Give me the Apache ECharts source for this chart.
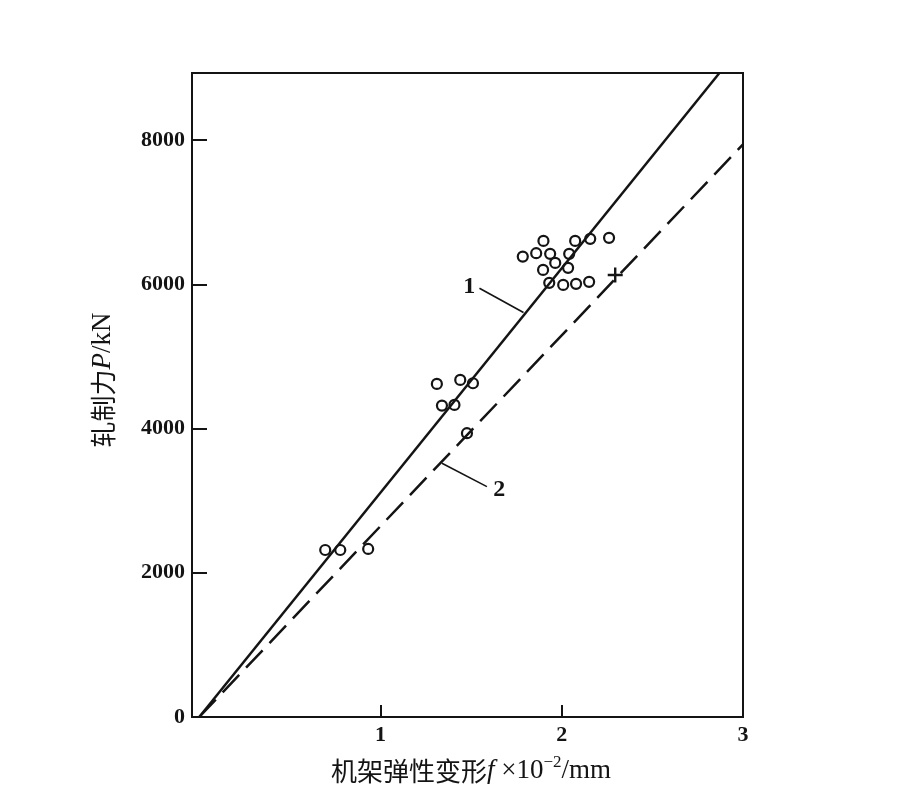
<!DOCTYPE html>
<html>
<head>
<meta charset="utf-8">
<script src="https://cdn.jsdelivr.net/npm/echarts@6/dist/echarts.min.js"></script>
<style>html,body{margin:0;padding:0;background:#fff;}#c{width:904px;height:808px;}</style>
</head>
<body>
<div id="c"></div>
<script>
// ---- data ----
const xLabelValues = [1, 2, 3];
const xTickValues = [1, 2];
const yLabelValues = [0, 2000, 4000, 6000, 8000];
const yTickValues = [2000, 4000, 6000, 8000];

const circleX = [0.695, 0.778, 0.932, 1.311, 1.440, 1.510, 1.339, 1.408, 1.477,
  1.785, 1.859, 1.899, 1.936, 1.964, 1.897, 1.931, 2.008, 2.079, 2.151, 2.035, 2.041, 2.074, 2.157, 2.261];
const circleY = [2316, 2316, 2330, 4619, 4674, 4628, 4318, 4328, 3935,
  6384, 6431, 6602, 6422, 6297, 6200, 6020, 5992, 6006, 6034, 6228, 6422, 6602, 6630, 6644];
const crossX = [2.295];
const crossY = [6130];

const line1X = [0, 2.87];
const line1Y = [0, 8930];
const line2X = [0, 3.0];
const line2Y = [0, 7940];

const leader1X = [1.546, 1.789];
const leader1Y = [5946, 5608];
const leader2X = [1.339, 1.587];
const leader2Y = [3519, 3194];
const lineTags = ['1', '2'];
const tagX = [1.489, 1.655];
const tagY = [5964, 3149];

const zip = (xs, ys) => xs.map((x, i) => [x, ys[i]]);

const ink = '#141414';
const serif = '"Liberation Serif", "DejaVu Serif", serif';
const cjk = '"Noto Sans CJK SC", sans-serif';

const chart = echarts.init(document.getElementById('c'));
chart.setOption({
  backgroundColor: '#ffffff',
  animation: false,
  grid: { left: 192, right: 161, top: 73, bottom: 91, show: true, borderColor: ink, borderWidth: 2, backgroundColor: 'transparent' },
  xAxis: {
    type: 'value', min: -0.04, max: 3,
    axisLine: { show: true, onZero: false, lineStyle: { color: ink, width: 2 } },
    axisTick: { show: true, inside: true, length: 12, customValues: xTickValues, lineStyle: { color: ink, width: 2 } },
    axisLabel: { customValues: xLabelValues, margin: 7, color: ink, fontFamily: serif, fontSize: 22, fontWeight: 'bold', formatter: v => String(v) },
    splitLine: { show: false }
  },
  yAxis: {
    type: 'value', min: 0, max: 8930,
    axisLine: { show: true, onZero: false, lineStyle: { color: ink, width: 2 } },
    axisTick: { show: true, inside: true, length: 15, customValues: yTickValues, lineStyle: { color: ink, width: 2 } },
    axisLabel: { customValues: yLabelValues, margin: 7, color: ink, fontFamily: serif, fontSize: 22, fontWeight: 'bold', formatter: v => String(v) },
    splitLine: { show: false }
  },
  graphic: [
    {
      type: 'text', x: 103, y: 380, rotation: Math.PI / 2,
      style: {
        text: '{a|轧制力}{b|P}{c|/kN}', align: 'center', verticalAlign: 'middle', fill: ink,
        rich: {
          a: { fontFamily: cjk, fontSize: 26, fill: ink },
          b: { fontFamily: serif, fontStyle: 'italic', fontSize: 27, fill: ink },
          c: { fontFamily: serif, fontSize: 27, fill: ink }
        }
      }
    },
    {
      type: 'text', x: 471, y: 771,
      style: {
        text: '{a|机架弹性变形}{b|f }{c|×10}{d|−2}{c|/mm}', align: 'center', verticalAlign: 'middle', fill: ink,
        rich: {
          a: { fontFamily: cjk, fontSize: 26, fill: ink },
          b: { fontFamily: serif, fontStyle: 'italic', fontSize: 27, fill: ink },
          c: { fontFamily: serif, fontSize: 27, fill: ink },
          d: { fontFamily: serif, fontSize: 17, fill: ink, padding: [0, 0, 16, 0] }
        }
      }
    }
  ],
  series: [
    {
      type: 'line', data: zip(line1X, line1Y), symbol: 'none', silent: true,
      lineStyle: { color: ink, width: 2.5 }
    },
    {
      type: 'line', data: zip(line2X, line2Y), symbol: 'none', silent: true,
      lineStyle: { color: ink, width: 2.5, type: [24, 10] }
    },
    {
      type: 'line', data: zip(leader1X, leader1Y), symbol: 'none', silent: true,
      lineStyle: { color: ink, width: 1.6 }
    },
    {
      type: 'line', data: zip(leader2X, leader2Y), symbol: 'none', silent: true,
      lineStyle: { color: ink, width: 1.6 }
    },
    {
      type: 'scatter', data: zip(circleX, circleY), symbol: 'circle', symbolSize: 10,
      itemStyle: { color: '#ffffff', borderColor: ink, borderWidth: 2.2, opacity: 1 }
    },
    {
      type: 'scatter', data: zip(crossX, crossY),
      symbol: 'path://M0,7L14,7M7,0L7,14', symbolSize: 15,
      itemStyle: { color: 'rgba(0,0,0,0)', borderColor: ink, borderWidth: 2.4, opacity: 1 }
    },
    {
      type: 'scatter', data: zip(tagX, tagY).map((p, i) => ({ value: p, name: lineTags[i] })),
      symbol: 'circle', symbolSize: 1,
      itemStyle: { color: 'rgba(0,0,0,0)', opacity: 1 },
      label: { show: true, position: 'inside', formatter: '{b}', color: ink, opacity: 1, textBorderWidth: 0,
        fontFamily: serif, fontSize: 24, fontWeight: 'bold' }
    }
  ]
});
</script>
</body>
</html>
